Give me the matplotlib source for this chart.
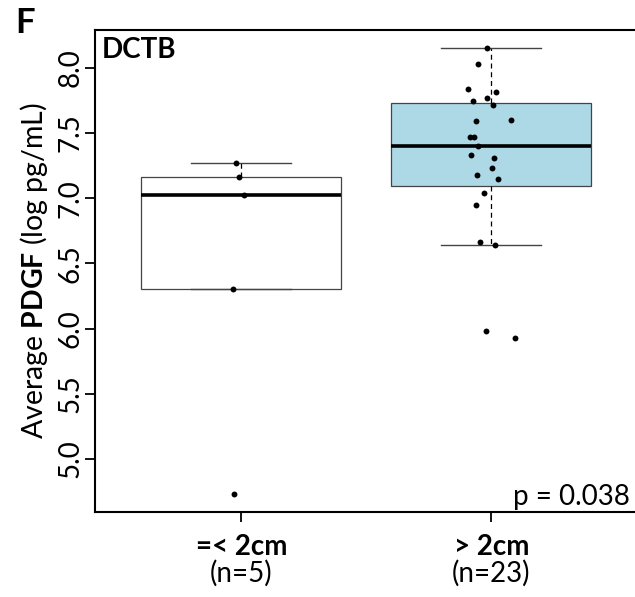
import matplotlib
matplotlib.use("Agg")

import matplotlib.pyplot as plt
import matplotlib.transforms as mtransforms
import numpy as np

plt.rcParams["font.family"] = ["Lato", "DejaVu Sans"]
plt.rcParams["mathtext.fontset"] = "custom"
plt.rcParams["mathtext.rm"] = "Lato"
plt.rcParams["mathtext.bf"] = "Lato:bold"

# data
GROUPS = ["=< 2cm", "> 2cm"]
COUNTS = ["(n=5)", "(n=23)"]
SMALL_TUMOR = [7.267, 7.164, 7.025, 6.305, 4.728]
SMALL_JITTER = [-0.020, -0.011, 0.012, -0.033, -0.028]
LARGE_TUMOR = [8.154, 8.033, 7.836, 7.813, 7.767, 7.746, 7.715, 7.602, 7.592,
               7.472, 7.472, 7.402, 7.333, 7.310, 7.233, 7.179, 7.148, 7.041,
               6.948, 6.664, 6.638, 5.985, 5.928]
LARGE_JITTER = [-0.016, -0.053, -0.093, 0.019, -0.016, -0.073, 0.008, 0.079,
                -0.061, -0.086, -0.068, -0.053, -0.082, 0.012, 0.004, -0.057,
                0.027, -0.028, -0.061, -0.046, 0.016, -0.020, 0.095]
Y_TICKS = [5.0, 5.5, 6.0, 6.5, 7.0, 7.5, 8.0]
P_TEXT = "p = 0.038"
PANEL = "F"
SUBSET = "DCTB"

BOX_COLORS = ["white", "#ADD8E6"]
EDGE = "#444444"
FONT_SIZE = 20

W, H = 635, 597
fig = plt.figure(figsize=(W / 100, H / 100), dpi=100)
# axes box in pixels: left 95, right 635, top 30, bottom 512
ax = fig.add_axes([95 / W, (H - 512) / H, 540 / W, 482 / H])

data = [SMALL_TUMOR, LARGE_TUMOR]
positions = [1, 2]
bp = ax.boxplot(
    data,
    positions=positions,
    widths=0.8,
    capwidths=0.4,
    whis=1.5,
    showfliers=False,
    patch_artist=True,
    boxprops=dict(edgecolor=EDGE, linewidth=0.9),
    whiskerprops=dict(color="black", linewidth=0.9, linestyle=(0, (4, 3))),
    capprops=dict(color=EDGE, linewidth=1.0),
    medianprops=dict(color="black", linewidth=2.6, solid_capstyle="butt"),
)
for patch, color in zip(bp["boxes"], BOX_COLORS):
    patch.set_facecolor(color)

for pos, values, jitter in zip(positions, data, [SMALL_JITTER, LARGE_JITTER]):
    xs = pos + np.asarray(jitter)
    ax.scatter(xs, values, s=18, color="black", zorder=5, linewidths=0)

ax.set_xlim(0.415, 2.575)
ax.set_ylim(4.593, 8.291)

for side in ["left", "bottom", "top"]:
    ax.spines[side].set_linewidth(1.5)
ax.spines["right"].set_visible(False)

ax.set_yticks(Y_TICKS)
ax.set_yticklabels([f"{v:.1f}" for v in Y_TICKS], rotation=90, va="center")
ax.set_xticks(positions)
ax.set_xticklabels(GROUPS, fontweight="bold")
ax.tick_params(direction="out", length=7, width=1.3, labelsize=FONT_SIZE)
ax.tick_params(axis="y", pad=1)
ax.tick_params(axis="x", pad=9)

blend = mtransforms.blended_transform_factory(ax.transData, ax.transAxes)
for pos, count in zip(positions, COUNTS):
    ax.text(pos, -0.1452, count, transform=blend, ha="center", va="baseline",
            fontsize=FONT_SIZE)

ax.set_ylabel(r"Average $\mathbf{PDGF}$ (log pg/mL)", fontsize=20.5, labelpad=6)

ax.text(0.013, 0.942, SUBSET, transform=ax.transAxes, ha="left", va="baseline",
        fontsize=FONT_SIZE, fontweight="bold")
ax.text(0.991, 0.0145, P_TEXT, transform=ax.transAxes, ha="right", va="baseline",
        fontsize=FONT_SIZE)
fig.text(15 / W, (H - 33) / H, PANEL, ha="left", va="baseline",
         fontsize=25, fontweight="bold")

fig.savefig("out.png", dpi=100)
